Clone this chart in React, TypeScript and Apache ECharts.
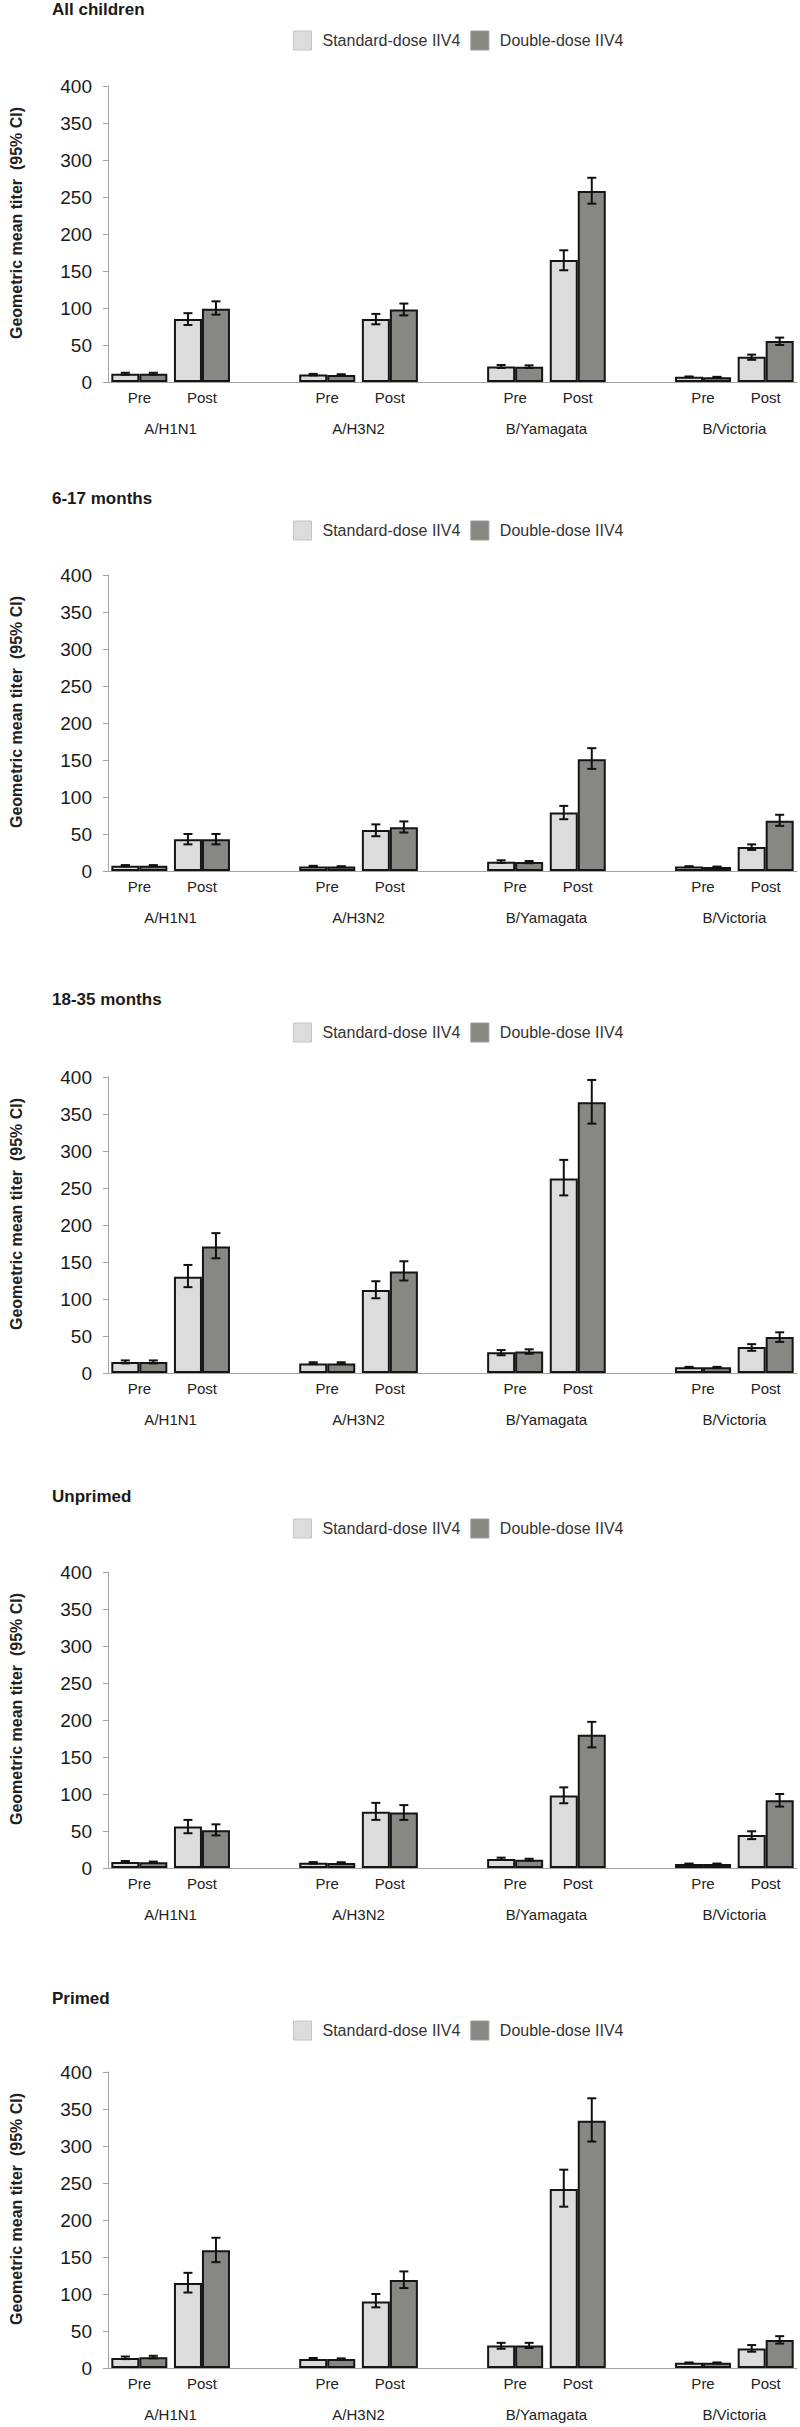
import React, { useEffect, useRef } from 'react';
import * as echarts from 'echarts';

// ---------- data ----------
const strains = ['A/H1N1', 'A/H3N2', 'B/Yamagata', 'B/Victoria'];
const timepoints = ['Pre', 'Post'];
const seriesNames = ['Standard-dose IIV4', 'Double-dose IIV4'];
const panelTitles = ['All children', '6-17 months', '18-35 months', 'Unprimed', 'Primed'];
const yAxisName = 'Geometric mean titer  (95% CI)';
const yMin = 0;
const yMax = 400;
const yStep = 50;

// order of values: H1N1 Pre, H1N1 Post, H3N2 Pre, H3N2 Post, Yam Pre, Yam Post, Vic Pre, Vic Post
// All children
const allStdGmt = [11, 85, 10, 85, 21, 165, 7, 34];
const allStdLow = [10, 77, 9, 78, 19, 151, 6.5, 30];
const allStdHigh = [12.5, 93, 11, 92, 23, 178, 7.5, 37];
const allDblGmt = [11, 99, 9.5, 98, 20.5, 258, 6.5, 55.5];
const allDblLow = [10, 91, 8.5, 90, 19, 241, 6, 50];
const allDblHigh = [12.5, 109, 10.5, 106, 22.5, 276, 7, 60];

// 6-17 months
const m617StdGmt = [7, 43, 6, 55.5, 12.6, 79, 6, 32.5];
const m617StdLow = [6.5, 36, 5.5, 47, 11, 70, 5.5, 28.5];
const m617StdHigh = [8, 50, 7, 63, 14.5, 88, 6.5, 36];
const m617DblGmt = [7, 43, 6, 59, 12, 151, 5.5, 68];
const m617DblLow = [6.5, 36, 5.5, 52, 10.5, 138, 5, 61];
const m617DblHigh = [8, 50, 6.5, 67, 13.5, 166, 6, 76];

// 18-35 months
const m1835StdGmt = [15, 130, 13, 112, 28, 263, 7.7, 35];
const m1835StdLow = [13, 116, 12, 101, 24, 240, 7, 30];
const m1835StdHigh = [17, 146, 14.5, 124, 31, 288, 8.3, 39];
const m1835DblGmt = [15, 171, 13, 137, 29, 366, 7.7, 48.7];
const m1835DblLow = [13, 155, 12, 125, 26, 337, 7, 42];
const m1835DblHigh = [17, 189, 14.5, 151, 32, 396, 8.3, 55];

// Unprimed
const unpStdGmt = [8, 56, 7, 76, 12, 98, 5.5, 44.6];
const unpStdLow = [7, 47, 6, 65, 11, 87.5, 5, 39];
const unpStdHigh = [9.5, 65, 8, 88, 14, 109, 6, 49.6];
const unpDblGmt = [7.7, 51, 6.8, 75, 11, 180, 5.5, 91.5];
const unpDblLow = [6.8, 44, 6, 65, 10, 163, 5, 83];
const unpDblHigh = [8.7, 59, 7.8, 85, 12.5, 197.5, 6, 100];

// Primed
const priStdGmt = [13.6, 115, 12, 90, 30.5, 242, 7, 26.4];
const priStdLow = [12, 102, 11, 82, 26, 218, 6.5, 22];
const priStdHigh = [15.5, 128.6, 13.5, 100, 34, 268, 7.5, 31];
const priDblGmt = [14.5, 159, 12, 119, 30.5, 334, 7, 38];
const priDblLow = [13, 143, 11, 108, 27, 306, 6.5, 33];
const priDblHigh = [16.5, 176, 13, 130.5, 34, 364.5, 7.5, 43];

const panelData = [
  [[allStdGmt, allStdLow, allStdHigh], [allDblGmt, allDblLow, allDblHigh]],
  [[m617StdGmt, m617StdLow, m617StdHigh], [m617DblGmt, m617DblLow, m617DblHigh]],
  [[m1835StdGmt, m1835StdLow, m1835StdHigh], [m1835DblGmt, m1835DblLow, m1835DblHigh]],
  [[unpStdGmt, unpStdLow, unpStdHigh], [unpDblGmt, unpDblLow, unpDblHigh]],
  [[priStdGmt, priStdLow, priStdHigh], [priDblGmt, priDblLow, priDblHigh]],
];

// ---------- layout / style ----------
const FONT = '"Liberation Sans", Arial, Helvetica, sans-serif';
const plotTops = [86, 575, 1077, 1572, 2072];
const plotHeight = 296;
const titleCenters = [10, 499, 1000, 1497, 1999];
const legendCenters = [40, 530, 1032, 1528, 2030];
const barColors = ['#dcdcdc', '#878883'];
const legendBorders = ['#c4c4c4', '#9c9c98'];
const BAR_W = 28;

// category slots: Pre, Post, gap, Pre, Post, gap, ...
const mainCats: string[] = [];
strains.forEach((s, i) => {
  timepoints.forEach((t) => mainCats.push(t));
  if (i < strains.length - 1) mainCats.push('');
});
// strain label axis: boundaryGap false, half-slot ticks, labels midway between Pre and Post
const strainCats: string[] = [];
for (let i = 0; i <= mainCats.length * 2; i++) strainCats.push('');
strains.forEach((s, k) => {
  strainCats[6 * k + 2] = s;
});
const slotOf = (k: number) => Math.floor(k / 2) * 3 + (k % 2);

function buildOption() {
  const grid: any[] = [];
  const xAxis: any[] = [];
  const yAxis: any[] = [];
  const series: any[] = [];
  const title: any[] = [];
  const legend: any[] = [];

  panelTitles.forEach((pt, i) => {
    grid.push({ left: 107, right: 0, top: plotTops[i], height: plotHeight });
    xAxis.push({
      type: 'category',
      gridIndex: i,
      data: mainCats,
      axisLine: { show: true, lineStyle: { color: '#a3a3a3', width: 1 } },
      axisTick: { show: false },
      axisLabel: { interval: 0, margin: 8, fontSize: 15, color: '#222', fontFamily: FONT },
    });
    xAxis.push({
      type: 'category',
      gridIndex: i,
      data: strainCats,
      boundaryGap: false,
      position: 'bottom',
      offset: 31,
      axisLine: { show: false },
      axisTick: { show: false },
      axisLabel: { interval: 0, margin: 8, fontSize: 15, color: '#222', fontFamily: FONT },
    });
    yAxis.push({
      type: 'value',
      gridIndex: i,
      min: yMin,
      max: yMax,
      interval: yStep,
      axisLine: { show: true, lineStyle: { color: '#a3a3a3', width: 1 } },
      axisTick: { show: true, length: 5, lineStyle: { color: '#a3a3a3' } },
      splitLine: { show: false },
      axisLabel: { fontSize: 19, margin: 16, color: '#1a1a1a', fontFamily: FONT },
      name: yAxisName,
      nameLocation: 'middle',
      nameRotate: 90,
      nameGap: 84,
      nameTextStyle: {
        fontSize: 16,
        fontWeight: 'bold',
        color: '#222',
        fontFamily: FONT,
        padding: [0, 0, 0, 22],
      },
    });
    title.push({
      text: pt,
      left: 52,
      top: titleCenters[i] - 9,
      padding: 0,
      textStyle: { fontSize: 17, fontWeight: 'bold', color: '#1a1a1a', fontFamily: FONT },
    });
    legend.push({
      left: 293,
      top: legendCenters[i] - 9.5,
      padding: 0,
      icon: 'rect',
      itemWidth: 18,
      itemHeight: 19,
      itemGap: 10,
      selectedMode: false,
      data: seriesNames.map((n, s) => ({
        name: n,
        itemStyle: { color: barColors[s], borderColor: legendBorders[s], borderWidth: 1 },
      })),
      textStyle: { fontSize: 16, color: '#333', fontFamily: FONT, padding: [0, 0, 0, 6] },
    });

    panelData[i].forEach((arrs, s) => {
      const [gmt, low, high] = arrs;
      const barData: (number | null)[] = mainCats.map(() => null);
      gmt.forEach((v, k) => {
        barData[slotOf(k)] = v;
      });
      series.push({
        type: 'bar',
        name: seriesNames[s],
        xAxisIndex: 2 * i,
        yAxisIndex: i,
        data: barData,
        barWidth: BAR_W,
        barGap: '0%',
        itemStyle: { color: barColors[s], borderColor: '#151515', borderWidth: 2 },
        emphasis: { disabled: true },
      });
      const offset = s === 0 ? -BAR_W / 2 : BAR_W / 2;
      series.push({
        type: 'custom',
        name: seriesNames[s] + ' CI',
        xAxisIndex: 2 * i,
        yAxisIndex: i,
        data: gmt.map((v, k) => [slotOf(k), low[k], high[k]]),
        encode: { x: 0, y: [1, 2] },
        z: 5,
        silent: true,
        renderItem: (params: any, api: any) => {
          const x = api.value(0);
          const pLo = api.coord([x, api.value(1)]);
          const pHi = api.coord([x, api.value(2)]);
          const cx = pLo[0] + offset;
          const cap = 4.5;
          const st = { stroke: '#111', lineWidth: 2 };
          return {
            type: 'group',
            children: [
              { type: 'line', shape: { x1: cx, y1: pLo[1], x2: cx, y2: pHi[1] }, style: st },
              { type: 'line', shape: { x1: cx - cap, y1: pLo[1], x2: cx + cap, y2: pLo[1] }, style: st },
              { type: 'line', shape: { x1: cx - cap, y1: pHi[1], x2: cx + cap, y2: pHi[1] }, style: st },
            ],
          };
        },
      });
    });
  });

  return {
    animation: false,
    backgroundColor: '#ffffff',
    textStyle: { fontFamily: FONT },
    title,
    legend,
    grid,
    xAxis,
    yAxis,
    series,
  };
}

export default function App() {
  const ref = useRef<HTMLDivElement>(null);
  useEffect(() => {
    document.body.style.margin = '0';
    if (!ref.current) return;
    const chart = echarts.init(ref.current, undefined, { renderer: 'svg' });
    chart.setOption(buildOption() as any);
    return () => {
      chart.dispose();
    };
  }, []);
  return <div ref={ref} style={{ width: 800, height: 2427 }} />;
}
